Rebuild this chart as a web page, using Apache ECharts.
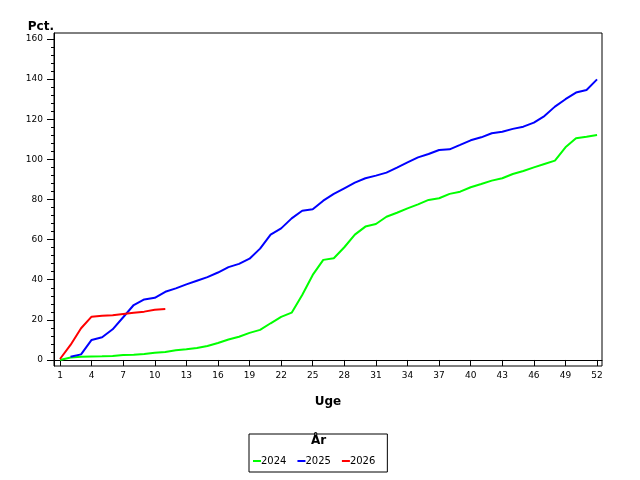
<!DOCTYPE html>
<html>
<head>
    <meta charset="utf-8">
    <title>Pct. pr. uge</title>
    <script src="https://cdn.jsdelivr.net/npm/echarts@6/dist/echarts.min.js"></script>
</head>
<style>
    html, body, #main {
        width: 100%;
        height: 100%;
        margin: 0;
        background: #fff;
    }
</style>
<body>
<div id='main'></div>
<script>
    // uger 1..52
    var weeks = [];
    for (var w = 1; w <= 52; w++) weeks.push(w);

    var xTicks = [1, 4, 7, 10, 13, 16, 19, 22, 25, 28, 31, 34, 37, 40, 43, 46, 49, 52];
    var yTicks = [0, 20, 40, 60, 80, 100, 120, 140, 160];
    var yMinorTicks = [];
    for (var t = 0; t <= 160; t += 4) yMinorTicks.push(t);

    var years = ['2024', '2025', '2026'];
    var colors = ['#00ff00', '#0000ff', '#ff0000'];

    var y2024 = [0, 1.2, 1.6, 1.7, 1.8, 2, 2.5, 2.6, 3, 3.6,
        4, 4.8, 5.3, 6, 7, 8.5, 10.2, 11.6, 13.5, 15,
        18.3, 21.5, 23.6, 32.4, 42.4, 49.9, 50.7, 56.2, 62.5, 66.5,
        67.8, 71.4, 73.4, 75.6, 77.6, 79.8, 80.6, 82.8, 83.9, 86.1,
        87.7, 89.4, 90.6, 92.7, 94.2, 96, 97.7, 99.4, 106, 110.5,
        111.3, 112.2];
    var y2025 = [null, 1.6, 2.8, 10, 11.3, 15.3, 21.3, 27.4, 30.2, 31,
        34, 35.7, 37.7, 39.5, 41.3, 43.6, 46.3, 47.9, 50.5, 55.5,
        62.5, 65.6, 70.6, 74.4, 75.1, 79.4, 82.8, 85.6, 88.4, 90.6,
        91.9, 93.4, 95.9, 98.5, 101, 102.7, 104.7, 105, 107.2, 109.5,
        111, 113, 113.8, 115.2, 116.3, 118.3, 121.6, 126.3, 130, 133.3,
        134.6, 139.9];
    var y2026 = [0.5, 7.5, 15.8, 21.6, 22, 22.3, 22.9, 23.5, 24.1, 25, 25.4];

    var values = [y2024, y2025, y2026];

    function pairs(arr) {
        var out = [];
        for (var i = 0; i < arr.length; i++) {
            if (arr[i] !== null) out.push([weeks[i], arr[i]]);
        }
        return out;
    }

    var font = 'DejaVu Sans';
    var series = [];
    for (var k = 0; k < years.length; k++) {
        series.push({
            name: years[k],
            type: 'line',
            data: pairs(values[k]),
            showSymbol: false,
            symbol: 'none',
            lineStyle: {color: colors[k], width: 2},
            itemStyle: {color: colors[k]},
            animation: false
        });
    }

    var chart = echarts.init(document.getElementById('main'));
    var option = {
        animation: false,
        title: {
            text: 'År',
            left: 311,
            top: 435,
            padding: 0,
            textStyle: {fontFamily: font, fontSize: 12, fontWeight: 'bold', color: '#000'}
        },
        grid: {
            left: 54, right: 38, top: 33, bottom: 114,
            show: true, borderColor: '#000', borderWidth: 1
        },
        legend: {
            data: years,
            left: 249,
            top: 434,
            orient: 'horizontal',
            borderColor: '#000',
            borderWidth: 1,
            padding: [22, 12, 6, 4],
            itemGap: 11,
            itemWidth: 8,
            itemHeight: 2,
            icon: 'rect',
            textStyle: {fontFamily: font, fontSize: 10, color: '#000', padding: [0, 0, 0, -5]}
        },
        xAxis: {
            type: 'value',
            min: 0.43,
            max: 52.47,
            name: 'Uge',
            nameLocation: 'middle',
            nameGap: 30,
            nameTextStyle: {fontFamily: font, fontSize: 12, fontWeight: 'bold', color: '#000'},
            axisLine: {lineStyle: {color: '#000', width: 1}},
            axisTick: {show: true, length: 6, customValues: xTicks, lineStyle: {color: '#000'}},
            axisLabel: {customValues: xTicks, fontFamily: font, fontSize: 9, color: '#000', margin: 5},
            splitLine: {show: false}
        },
        yAxis: [{
            type: 'value',
            min: -3,
            max: 163,
            name: 'Pct.',
            nameLocation: 'end',
            nameGap: 0,
            nameTextStyle: {fontFamily: font, fontSize: 12, fontWeight: 'bold', color: '#000', align: 'right'},
            axisLine: {show: true, lineStyle: {color: '#000', width: 1}},
            axisTick: {show: true, length: 7, customValues: yTicks, lineStyle: {color: '#000'}},
            axisLabel: {customValues: yTicks, fontFamily: font, fontSize: 9, color: '#000', margin: 11},
            splitLine: {show: false}
        }, {
            type: 'value',
            min: -3,
            max: 163,
            position: 'left',
            axisLine: {show: false},
            axisTick: {show: true, length: 3, customValues: yMinorTicks, lineStyle: {color: '#000'}},
            axisLabel: {show: false},
            splitLine: {show: false}
        }],
        series: series
    };
    chart.setOption(option);

    window.onresize = chart.resize;
</script>
</body>
</html>
